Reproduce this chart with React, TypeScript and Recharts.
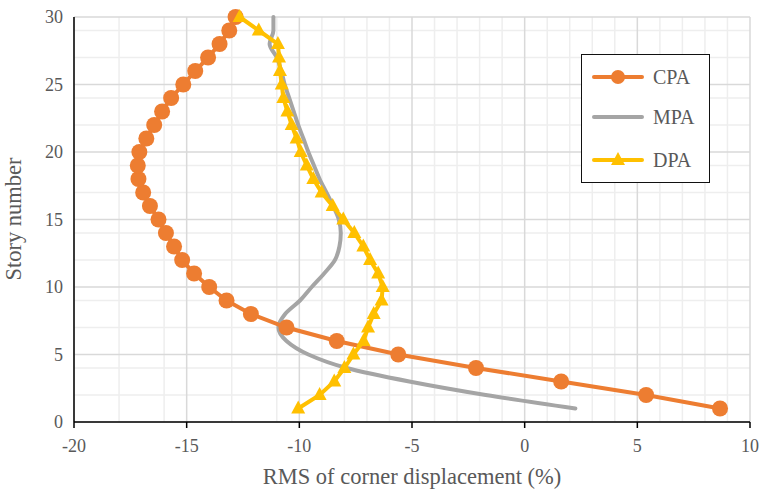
import { LineChart, Line, XAxis, YAxis, CartesianGrid } from "recharts";

// story levels and RMS of corner displacement (%) per method
const stories = [
  1, 2, 3, 4, 5, 6, 7, 8, 9, 10, 11, 12, 13, 14, 15, 16, 17, 18, 19, 20, 21, 22, 23, 24, 25, 26, 27, 28,
  29, 30,
];
const cpa = [
  8.67, 5.39, 1.62, -2.16, -5.61, -8.34, -10.57, -12.15, -13.23, -14.0, -14.67, -15.2, -15.56, -15.92,
  -16.25, -16.63, -16.93, -17.14, -17.17, -17.1, -16.79, -16.44, -16.09, -15.69, -15.15, -14.62, -14.05,
  -13.54, -13.11, -12.83,
];
const mpa = [
  2.25, -1.73, -5.12, -7.9, -9.6, -10.57, -10.93, -10.63, -9.97, -9.45, -8.9, -8.42, -8.22, -8.16, -8.25,
  -8.5, -8.8, -9.1, -9.35, -9.6, -9.82, -10.05, -10.25, -10.45, -10.65, -10.8, -11.0, -11.32, -11.15,
  -11.15,
];
const dpa = [
  -10.05, -9.1, -8.45, -8.0, -7.6, -7.15, -6.95, -6.7, -6.35, -6.3, -6.5, -6.86, -7.16, -7.56, -8.05,
  -8.52, -9.01, -9.38, -9.67, -9.94, -10.12, -10.34, -10.53, -10.71, -10.78, -10.86, -10.9, -10.95,
  -11.8, -12.65,
];

const xTicks = [-20, -15, -10, -5, 0, 5, 10];
const yTicks = [0, 5, 10, 15, 20, 25, 30];
const xMinor = [
  -19, -18, -17, -16, -14, -13, -12, -11, -9, -8, -7, -6, -4, -3, -2, -1, 1, 2, 3, 4, 6, 7, 8, 9,
];
const yMinor = [
  1, 2, 3, 4, 6, 7, 8, 9, 11, 12, 13, 14, 16, 17, 18, 19, 21, 22, 23, 24, 26, 27, 28, 29,
];

const data = stories.map((story, i) => ({ story, cpa: cpa[i], mpa: mpa[i], dpa: dpa[i] }));

const FONT = '"Liberation Serif", "Times New Roman", serif';
const TEXT = "#595959";
const ORANGE = "#ED7D31";
const GRAY = "#A5A5A5";
const GOLD = "#FFC000";

const CircleDot = (props: any) => {
  const { cx, cy, index } = props;
  if (cx == null || cy == null) return null;
  return <circle key={`c-${index}`} cx={cx} cy={cy} r={8} fill={ORANGE} />;
};

const TriangleDot = (props: any) => {
  const { cx, cy, index } = props;
  if (cx == null || cy == null) return null;
  return (
    <polygon
      key={`t-${index}`}
      points={`${cx},${cy - 8} ${cx - 7},${cy + 5} ${cx + 7},${cy + 5}`}
      fill={GOLD}
    />
  );
};

const LegendBox = () => (
  <div
    style={{
      position: "absolute",
      left: 581,
      top: 54,
      width: 129,
      height: 129,
      boxSizing: "border-box",
      border: "1.5px solid #111",
      background: "#fff",
    }}
  >
    <svg width={126} height={126} style={{ display: "block" }}>
      <line x1={12} x2={60} y1={22} y2={22} stroke={ORANGE} strokeWidth={4} strokeLinecap="round" />
      <circle cx={36} cy={22} r={7} fill={ORANGE} />
      <text x={71} y={29} fontSize={20} fill={TEXT} fontFamily={FONT}>CPA</text>

      <line x1={12} x2={60} y1={62} y2={62} stroke={GRAY} strokeWidth={4} strokeLinecap="round" />
      <text x={71} y={69} fontSize={20} fill={TEXT} fontFamily={FONT}>MPA</text>

      <line x1={12} x2={60} y1={105} y2={105} stroke={GOLD} strokeWidth={4} strokeLinecap="round" />
      <polygon points="36,97 29,110 43,110" fill={GOLD} />
      <text x={71} y={112} fontSize={20} fill={TEXT} fontFamily={FONT}>DPA</text>
    </svg>
  </div>
);

export default function App() {
  return (
    <div
      style={{
        position: "absolute",
        left: 0,
        top: 0,
        width: 760,
        height: 491,
        background: "#fff",
        fontFamily: FONT,
      }}
    >
      <LineChart
        width={760}
        height={491}
        data={data}
        layout="vertical"
        margin={{ top: 17, right: 10, bottom: 29, left: 0 }}
        style={{ fontFamily: FONT }}
      >
        <CartesianGrid
          stroke="#eeeeee"
          strokeWidth={1.5}
          verticalValues={xMinor}
          horizontalValues={yMinor}
        />
        <CartesianGrid
          stroke="#d9d9d9"
          strokeWidth={1.5}
          verticalValues={xTicks}
          horizontalValues={yTicks}
        />
        <XAxis
          type="number"
          domain={[-20, 10]}
          ticks={xTicks}
          height={40}
          allowDataOverflow
          axisLine={{ stroke: "#000", strokeWidth: 1.5 }}
          tickLine={{ stroke: "#000", strokeWidth: 1.5 }}
          tickSize={6}
          tickMargin={11}
          tick={{ fontSize: 18, fill: TEXT, fontFamily: FONT }}
          label={{
            content: () => (
              <text x={412} y={484} textAnchor="middle" fontSize={22.5} fill={TEXT} fontFamily={FONT}>
                RMS of corner displacement (%)
              </text>
            ),
          }}
        />
        <YAxis
          type="number"
          dataKey="story"
          domain={[0, 30]}
          ticks={yTicks}
          reversed
          width={74}
          axisLine={{ stroke: "#000", strokeWidth: 1.5 }}
          tickLine={false}
          tickSize={0}
          tickMargin={11}
          tick={{ fontSize: 18, fill: TEXT, fontFamily: FONT }}
          label={{
            content: () => (
              <text
                x={21}
                y={219}
                textAnchor="middle"
                transform="rotate(-90 21 219)"
                fontSize={22.5}
                fill={TEXT}
                fontFamily={FONT}
              >
                Story number
              </text>
            ),
          }}
        />
        <Line
          dataKey="mpa"
          type="monotone"
          stroke={GRAY}
          strokeWidth={4}
          strokeLinecap="round"
          dot={false}
          activeDot={false}
          isAnimationActive={false}
        />
        <Line
          dataKey="cpa"
          type="linear"
          stroke={ORANGE}
          strokeWidth={4}
          dot={CircleDot}
          activeDot={false}
          isAnimationActive={false}
        />
        <Line
          dataKey="dpa"
          type="linear"
          stroke={GOLD}
          strokeWidth={4}
          dot={TriangleDot}
          activeDot={false}
          isAnimationActive={false}
        />
      </LineChart>
      <LegendBox />
    </div>
  );
}
